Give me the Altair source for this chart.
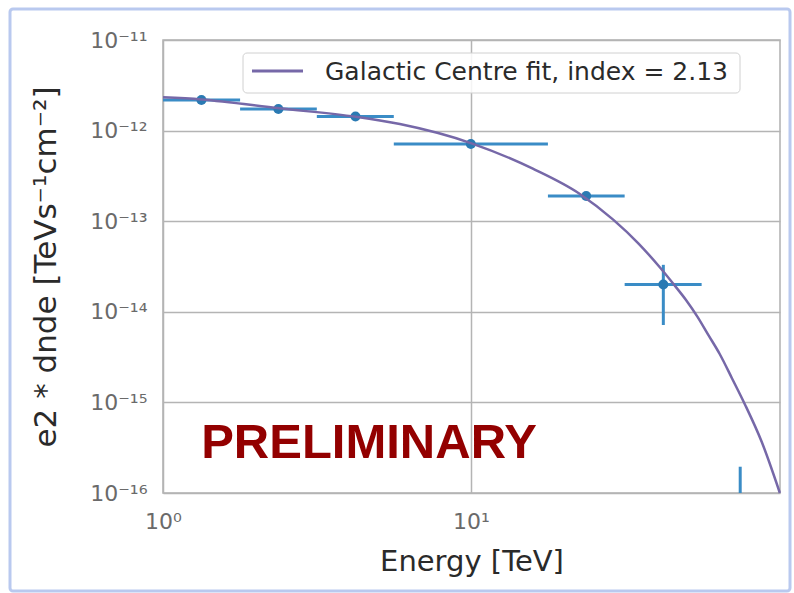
import altair as alt
import pandas as pd

# ---- data ----
energy = [1.333, 2.37, 4.22, 10.0, 23.7, 42.2]
e_lo = [1.0, 1.78, 3.16, 5.62, 17.8, 31.6]
e_hi = [1.78, 3.16, 5.62, 17.8, 31.6, 56.2]
flux = [2.18e-12, 1.73e-12, 1.43e-12, 7.1e-13, 1.9e-13, 2.0e-14]
flux_lo = [2.12e-12, 1.69e-12, 1.39e-12, 6.9e-13, 1.84e-13, 7.15e-15]
flux_hi = [2.24e-12, 1.77e-12, 1.47e-12, 7.3e-13, 1.96e-13, 3.3e-14]

ul_energy = [75.0]
ul_top = [1.95e-16]
ul_bottom = [5e-17]

curve_e = [1.0, 1.33, 2.39, 4.23, 5.88, 10.05, 15.9, 22.6, 29.0, 35.0, 41.1, 45.4, 50.0, 54.5, 59.0, 64.4, 70.5, 77.7, 88.0, 100.9]
curve_f = [2.33e-12, 2.21e-12, 1.76e-12, 1.42e-12, 1.18e-12, 7.24e-13, 3.8e-13, 2.0e-13,
           1.04e-13, 5.7e-14, 3.1e-14, 2.05e-14, 1.35e-14, 8.8e-15, 5.6e-15, 3.4e-15,
           1.85e-15, 9.5e-16, 3.7e-16, 1.0e-16]

legend_label = ["Galactic Centre fit, index = 2.13"]
stamp_text = ["PRELIMINARY"]
stamp_e = [1.33]
stamp_f = [2.42e-16]

x_ticks = [1, 10]
x_tick_labels = ["10⁰", "10¹"]
y_ticks = [1e-16, 1e-15, 1e-14, 1e-13, 1e-12, 1e-11]
y_tick_labels = ["10⁻¹⁶", "10⁻¹⁵", "10⁻¹⁴", "10⁻¹³", "10⁻¹²", "10⁻¹¹"]

# ---- tables ----
pts = pd.DataFrame({"e": energy, "elo": e_lo, "ehi": e_hi, "f": flux, "flo": flux_lo, "fhi": flux_hi})
ul = pd.DataFrame({"e": ul_energy, "top": ul_top, "bot": ul_bottom})
curve = pd.DataFrame({"e": curve_e, "f": curve_f, "s": legend_label * len(curve_e)})
stamp = pd.DataFrame({"e": stamp_e, "f": stamp_f, "t": stamp_text})
one = pd.DataFrame({"k": [0]})


def expr_chain(vals, labels):
    parts = []
    for v, lab in zip(vals[:-1], labels[:-1]):
        parts.append(f"datum.value < {v * 3:g} ? '{lab}' : ")
    return "".join(parts) + f"'{labels[-1]}'"


xscale = alt.Scale(type="log", domain=[1, 101], nice=False)
yscale = alt.Scale(type="log", domain=[1e-16, 1e-11], nice=False)

xaxis = alt.Axis(values=x_ticks, labelExpr=expr_chain(x_ticks, x_tick_labels),
                 title="Energy [TeV]", titleFontSize=29, titleFontWeight="normal",
                 titleColor="#2a2a2a", titleX=308.5, titleY=68, titleBaseline="middle",
                 labelFontSize=22, labelColor="#6a6a6a", labelPadding=18,
                 ticks=False, tickSize=0, domain=False, grid=True,
                 gridColor="#b4b4b4", gridWidth=1.5, labelFont="DejaVu Sans",
                 titleFont="DejaVu Sans", labelFlush=False)
yaxis = alt.Axis(values=y_ticks, labelExpr=expr_chain(y_ticks, y_tick_labels),
                 title="e2 * dnde [TeVs⁻¹cm⁻²]", titleFontSize=31, titleFontWeight="normal",
                 titleColor="#2a2a2a", titleX=-117, titleY=226.5, titleBaseline="middle",
                 titleAngle=270, labelFontSize=22, labelColor="#6a6a6a", labelPadding=16,
                 ticks=False, tickSize=0, domain=False, grid=True,
                 gridColor="#b4b4b4", gridWidth=1.5, labelFont="DejaVu Sans",
                 titleFont="DejaVu Sans", labelFlush=False)

frame = alt.Chart(one).mark_rect(fill="white", fillOpacity=0, stroke="#b9c9ef", strokeWidth=3,
                                 cornerRadius=3).encode(
    x=alt.value(-153), x2=alt.value(627), y=alt.value(-31), y2=alt.value(551))

hbars = alt.Chart(pts).mark_rule(color="#3a8cc6", strokeWidth=3).encode(
    x=alt.X("elo:Q", scale=xscale, axis=xaxis), x2="ehi:Q",
    y=alt.Y("f:Q", scale=yscale, axis=yaxis))
vbars = alt.Chart(pts).mark_rule(color="#3a8cc6", strokeWidth=3).encode(
    x=alt.X("e:Q", scale=xscale), y=alt.Y("flo:Q", scale=yscale), y2="fhi:Q")
dots = alt.Chart(pts).mark_circle(color="#2a7ab3", size=100, opacity=1).encode(
    x=alt.X("e:Q", scale=xscale), y=alt.Y("f:Q", scale=yscale))
ulbar = alt.Chart(ul).mark_rule(color="#3a8cc6", strokeWidth=3, clip=True).encode(
    x=alt.X("e:Q", scale=xscale), y=alt.Y("top:Q", scale=yscale), y2="bot:Q")

line = alt.Chart(curve).mark_line(strokeWidth=2.5, interpolate="monotone").encode(
    x=alt.X("e:Q", scale=xscale), y=alt.Y("f:Q", scale=yscale),
    color=alt.Color("s:N", scale=alt.Scale(range=["#7668a8"]), legend=None))

text = alt.Chart(stamp).mark_text(align="left", baseline="alphabetic", font="Liberation Sans",
                                  fontWeight="bold", fontSize=49, color="#930000").encode(
    x=alt.X("e:Q", scale=xscale), y=alt.Y("f:Q", scale=yscale), text="t:N")

# legend box (drawn by hand to match the reference proportions)
leg_box = alt.Chart(one).mark_rect(fill="white", fillOpacity=0.85, stroke="#d0d0d0",
                                   strokeWidth=1, cornerRadius=4).encode(
    x=alt.value(80), x2=alt.value(577), y=alt.value(13), y2=alt.value(53))
leg_line = alt.Chart(one).mark_rule(color="#7668a8", strokeWidth=3).encode(
    x=alt.value(89), x2=alt.value(140), y=alt.value(31))
leg_text = alt.Chart(pd.DataFrame({"t": legend_label})).mark_text(
    align="left", baseline="middle", font="DejaVu Sans", fontSize=25, color="#2a2a2a").encode(
    x=alt.value(162), y=alt.value(32), text="t:N")

chart = alt.layer(frame, hbars, vbars, dots, ulbar, line, text, leg_box, leg_line, leg_text).properties(
    width=617, height=453,
    autosize=alt.AutoSizeParams(type="none"),
    padding={"left": 163, "top": 40, "right": 14, "bottom": 100},
    background="white",
).configure_view(stroke="#b0b0b0", strokeWidth=1.5)

chart.save("out.html", embed_options={"renderer": "svg", "actions": False})
